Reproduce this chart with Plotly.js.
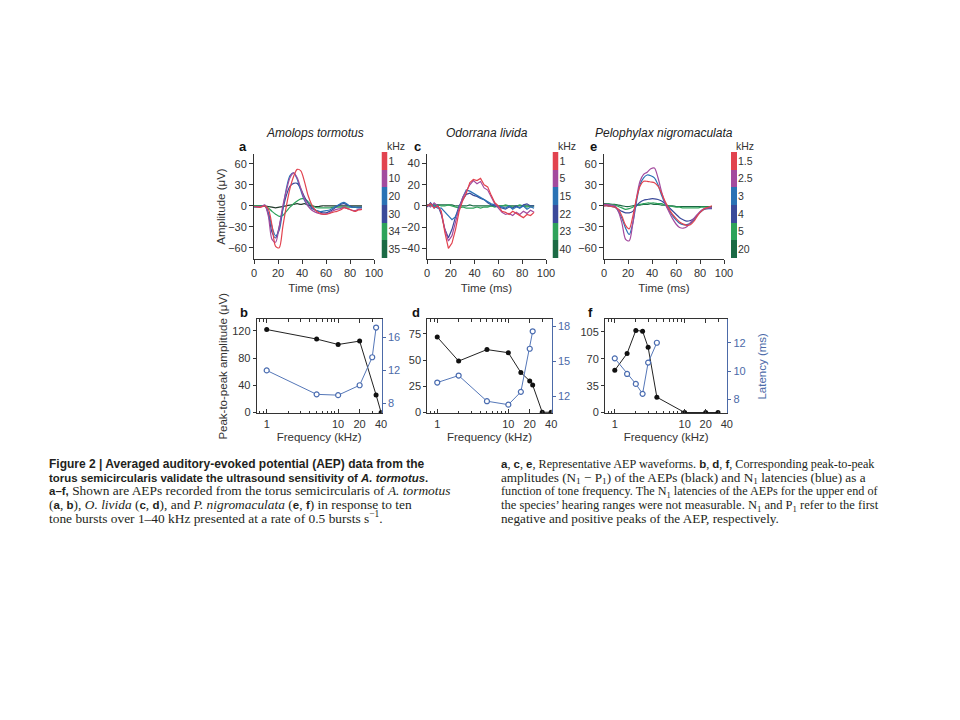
<!DOCTYPE html>
<html><head><meta charset="utf-8">
<script src="https://cdn.plot.ly/plotly-3.0.1.min.js"></script>
<style>html,body{margin:0;padding:0;background:#fff}#chart{width:960px;height:720px}</style>
</head><body><div id="chart"></div>
<script>
// ---------- DATA ----------
const timeMs = [0,3,6,9,12,15,18,21,24,27,30,33,36,39,42,45,48,51,54,57,60,63,66,69,72,75,78,81,84,87,90];

// Panel a: Amolops tormotus
const freqLabelsA = ['1','10','20','30','34','35'];
const aAmp1  = [-1,-2,-2,0,-5,-28,-58,-60,-30,0,25,42,52,50,35,15,2,-6,-10,-12,-12,-11,-9,-8,-6,-3,-4,-6,-8,-6,-5];
const aAmp10 = [-1,-1,-1,1,-15,-48,-52,-30,0,22,40,47,40,25,10,0,-6,-9,-11,-12,-12,-10,-7,-5,-4,-2,-4,-6,-7,-5,-5];
const aAmp20 = [-2,-2,-1,0,-10,-30,-43,-35,-5,25,43,47,38,22,8,0,-4,-6,-8,-8,-7,-6,-3,0,3,5,2,-2,-2,-3,-3];
const aAmp30 = [-1,-1,-1,1,-12,-38,-46,-30,-5,15,28,32,32,24,13,4,-2,-6,-8,-10,-10,-8,-5,-1,2,3,1,-1,-2,-2,-2];
const aAmp34 = [0,0,0,-1,-3,-8,-12,-15,-14,-8,-2,3,7,10,10,6,1,-2,-3,-3,-3,-3,-2,-2,-2,-2,-2,-2,-2,-2,-2];
const aAmp35 = [0,0,0,0,-1,-2,-3,-2,-1,0,1,2,3,2,3,1,0,-1,-1,0,0,0,0,0,0,0,0,0,0,0,0];

// Panel c: Odorrana livida
const freqLabelsC = ['1','5','15','22','23','40'];
const cAmp1  = [0,2,-2,0,-5,-25,-40,-35,-22,-5,5,12,22,25,24,26,20,18,10,3,0,-5,-6,-8,-5,-7,-9,-11,-8,-9,-6];
const cAmp5  = [1,-1,3,0,-6,-22,-33,-28,-15,-2,8,14,20,24,21,23,17,15,9,2,-2,-6,-8,-7,-9,-6,-8,-5,-7,-4,-6];
const cAmp15 = [0,2,0,-2,-2,-6,-10,-13,-10,-3,8,15,14,12,10,8,6,4,2,1,0,-1,-2,0,-3,-1,-2,0,-3,-1,-2];
const cAmp22 = [-1,3,-2,1,-8,-22,-30,-22,-10,0,6,11,12,10,9,7,6,3,1,0,-1,-2,-3,-1,-2,0,-2,1,2,0,0];
const cAmp23 = [0,1,0,1,0,0,1,0,-1,-2,-1,-2,-2,-2,-1,-2,-1,-1,0,-1,0,0,1,0,-1,0,1,0,-1,0,0];
const cAmp40 = [1,1,1,1,1,1,1,1,0,0,0,0,1,0,0,0,0,0,0,0,0,0,0,0,0,0,0,0,0,0,0];

// Panel e: Pelophylax nigromaculata
const freqLabelsE = ['1.5','2.5','3','4','5','20'];
const eAmp15 = [0,0,-1,-2,-5,-15,-28,-33,-15,10,28,35,35,34,33,28,18,6,-4,-12,-18,-23,-26,-28,-27,-22,-14,-8,-4,-2,0];
const eAmp25 = [2,2,1,0,-8,-25,-48,-50,-25,10,35,45,48,53,54,40,20,3,-8,-18,-26,-31,-32,-30,-24,-18,-12,-7,-4,-3,-3];
const eAmp3  = [1,1,0,-1,-8,-18,-32,-41,-25,5,30,40,44,43,40,30,15,3,-6,-14,-20,-25,-27,-27,-25,-20,-13,-7,-4,-3,-3];
const eAmp4  = [0,0,-1,-2,-5,-8,-10,-10,-8,0,5,8,9,10,10,9,7,3,-2,-7,-12,-17,-20,-22,-21,-18,-13,-8,-5,-4,-4];
const eAmp5  = [2,3,2,1,-1,-3,-5,-4,-2,1,2,3,4,4,4,3,3,1,0,-1,-2,-2,-3,-3,-3,-3,-3,-2,-2,-2,-2];
const eAmp20 = [3,3,2,2,1,0,-1,-1,0,1,1,2,2,3,2,2,1,1,0,0,-1,-1,-1,-1,-1,-1,-1,-1,-1,-1,-1];

// Panel b
const bAmpFreq = [1,5,10,20,34,40];
const bAmp     = [122,108,100,105,26,0];
const bLatFreq = [1,5,10,20,30,34];
const bLat     = [12.0,9.1,9.0,10.2,13.6,17.2];
// Panel d
const dAmpFreq = [1,2,5,10,15,20,22,30,40];
const dAmp     = [72,49,60,57,38,30,26,0,0];
const dLatFreq = [1,2,5,10,15,20,22];
const dLat     = [13.2,13.8,11.6,11.3,12.4,16.1,17.6];
// Panel f
const fAmpFreq = [1,1.5,2,2.5,3,4,10,20,30];
const fAmp     = [55,77,107,106,85,20,0,0,0];
const fLatFreq = [1,1.5,2,2.5,3,4];
const fLat     = [10.9,9.8,9.1,8.4,10.6,12.0];

const freqTickVals = [1,10,20,40];
const freqMinorVals = [0.8,0.9,2,3,4,5,6,7,8,9,20,30];

// ---------- STYLE ----------
const FONT = 'Liberation Sans, Arial, sans-serif';
const SERIF = 'Liberation Serif, Times New Roman, serif';
const C_RED = '#e2434f', C_PUR = '#a34a9e', C_BLU = '#2a72b5', C_IND = '#3b4a9a', C_GRN = '#2ea35a', C_DGR = '#1b6a44';
const waveColors = [C_RED, C_PUR, C_BLU, C_IND, C_GRN, C_DGR];
const BLUE_AX = '#4c6aa8';
const AXC = '#333';

const fx = p => p / 960;
const fy = p => 1 - p / 720;

const traces = [];
function addWaves(series, colors, xa, ya, shape, lastColor) {
  for (let i = series.length - 1; i >= 0; i--) {
    traces.push({
      type: 'scatter', mode: 'lines', x: timeMs, y: series[i], xaxis: xa, yaxis: ya,
      line: {color: (i === series.length - 1 && lastColor) ? lastColor : colors[i], width: 1.2, shape: shape, smoothing: 0.8},
      showlegend: false, hoverinfo: 'skip'
    });
  }
}
addWaves([aAmp1,aAmp10,aAmp20,aAmp30,aAmp34,aAmp35], waveColors, 'x', 'y', 'spline', '#233b2d');
addWaves([cAmp1,cAmp5,cAmp15,cAmp22,cAmp23,cAmp40], waveColors, 'x2', 'y2', 'linear');
addWaves([eAmp15,eAmp25,eAmp3,eAmp4,eAmp5,eAmp20], waveColors, 'x3', 'y3', 'spline');

// colour keys
const keyScale = [[0,C_RED],[0.2,C_PUR],[0.4,C_BLU],[0.6,C_IND],[0.8,C_GRN],[1,C_DGR]];
function addKey(labels, xa, ya) {
  traces.push({type:'heatmap', x:[0], y:labels, z:labels.map((l,i)=>[i]), zmin:0, zmax:5,
    colorscale:keyScale, showscale:false, xaxis:xa, yaxis:ya, hoverinfo:'skip', xgap:0, ygap:0});
}
addKey(freqLabelsA, 'x4', 'y4');
addKey(freqLabelsC, 'x5', 'y5');
addKey(freqLabelsE, 'x6', 'y6');

function addFreq(ampF, amp, latF, lat, xa, ya, ya2) {
  traces.push({type:'scatter', mode:'lines+markers', x:ampF, y:amp, xaxis:xa, yaxis:ya,
    line:{color:'#222', width:1}, marker:{color:'#111', size:5}, showlegend:false});
  traces.push({type:'scatter', mode:'lines+markers', x:latF, y:lat, xaxis:xa, yaxis:ya2,
    line:{color:'#5577b8', width:1}, marker:{color:'#fff', size:5, symbol:'circle', line:{color:'#4a6cb0', width:1.2}}, showlegend:false});
}
addFreq(bAmpFreq, bAmp, bLatFreq, bLat, 'x7', 'y7', 'y8');
addFreq(dAmpFreq, dAmp, dLatFreq, dLat, 'x9', 'y9', 'y10');
addFreq(fAmpFreq, fAmp, fLatFreq, fLat, 'x11', 'y11', 'y12');

// ---------- LAYOUT ----------
const tickFont = {family: FONT, size: 11, color: AXC};
const topY = [fy(259), fy(154)];
function timeX(d0, d1, anchor) {
  return {domain:[fx(d0), fx(d1)], anchor:anchor, range:[0,100], tickvals:[0,20,40,60,80,100],
    showline:true, linecolor:AXC, linewidth:1, ticks:'outside', ticklen:4, tickcolor:AXC,
    showgrid:false, zeroline:false, tickfont:tickFont,
    title:{text:'Time (ms)', font:{family:FONT, size:11.5, color:AXC}, standoff:5}};
}
function ampY(anchor, range, vals, title) {
  const o = {domain:topY, anchor:anchor, range:range, tickvals:vals,
    showline:true, linecolor:AXC, linewidth:1, ticks:'outside', ticklen:4, tickcolor:AXC,
    showgrid:false, zeroline:false, tickfont:tickFont};
  if (title) o.title = {text:title, font:{family:FONT, size:11.5, color:AXC}, standoff:0};
  return o;
}
function keyX(d0, d1, anchor) {
  return {domain:[fx(d0), fx(d1)], anchor:anchor, showticklabels:false, showgrid:false, zeroline:false, ticks:'', showline:false, range:[-0.5,0.5]};
}
function keyY(anchor) {
  return {domain:[fy(258), fy(152)], anchor:anchor, type:'category', autorange:'reversed', side:'right',
    showgrid:false, zeroline:false, showline:false, ticks:'', tickfont:{family:FONT, size:10.5, color:AXC}};
}
const botY = [fy(413.3), fy(319.3)];
function freqX(d0, d1, anchor) {
  return {domain:[fx(d0), fx(d1)], anchor:anchor, type:'log', range:[-0.14, 1.61],
    tickvals:freqTickVals, ticktext:freqTickVals.map(String), ticks:'inside', ticklen:4, tickcolor:AXC,
    minor:{tickvals:freqMinorVals, ticks:'inside', ticklen:2.5, tickcolor:AXC},
    showline:true, linecolor:AXC, linewidth:1, mirror:'ticks', showgrid:false, zeroline:false, tickfont:tickFont,
    title:{text:'Frequency (kHz)', font:{family:FONT, size:11.5, color:AXC}, standoff:4}};
}
function ppY(anchor, range, vals, title) {
  const o = {domain:botY, anchor:anchor, range:range, tickvals:vals, showline:true, linecolor:AXC, linewidth:1,
    ticks:'outside', ticklen:3, tickcolor:AXC, showgrid:false, zeroline:false, tickfont:tickFont};
  if (title) o.title = {text:title, font:{family:FONT, size:11.5, color:AXC}, standoff:2};
  return o;
}
function latY(overlay, anchor, range, vals, title) {
  const o = {overlaying:overlay, anchor:anchor, side:'right', range:range, tickvals:vals, showline:true,
    linecolor:BLUE_AX, linewidth:1, ticks:'outside', ticklen:3, tickcolor:BLUE_AX, showgrid:false, zeroline:false,
    tickfont:{family:FONT, size:11, color:BLUE_AX}};
  if (title) o.title = {text:title, font:{family:FONT, size:11.5, color:BLUE_AX}, standoff:13};
  return o;
}

const layout = {
  width:960, height:720, margin:{l:0, r:0, t:0, b:0}, paper_bgcolor:'#fff', plot_bgcolor:'rgba(0,0,0,0)',
  showlegend:false, font:{family:FONT, color:AXC},
  xaxis: timeX(254, 374, 'y'),
  yaxis: ampY('x', [-76,74], [-60,-30,0,30,60], 'Amplitude (μV)'),
  xaxis2: timeX(427, 546, 'y2'),
  yaxis2: ampY('x2', [-50,49], [-40,-20,0,20,40]),
  xaxis3: timeX(604, 724, 'y3'),
  yaxis3: ampY('x3', [-76,74], [-60,-30,0,30,60]),
  xaxis4: keyX(381.5, 387.5, 'y4'), yaxis4: keyY('x4'),
  xaxis5: keyX(552.5, 558.5, 'y5'), yaxis5: keyY('x5'),
  xaxis6: keyX(731, 737, 'y6'), yaxis6: keyY('x6'),
  xaxis7: freqX(256.7, 381.7, 'y7'),
  yaxis7: ppY('x7', [-1,137], [0,40,80,120], 'Peak-to-peak amplitude (μV)'),
  yaxis8: latY('y7', 'x7', [6.8,18.2], [8,12,16]),
  xaxis9: freqX(427.3, 551.7, 'y9'),
  yaxis9: ppY('x9', [-1,89], [0,25,50,75]),
  yaxis10: latY('y9', 'x9', [10.56,18.63], [12,15,18]),
  xaxis11: freqX(605, 727.3, 'y11'),
  yaxis11: ppY('x11', [-1,121.5], [0,35,70,105]),
  yaxis12: latY('y11', 'x11', [7.03,13.65], [8,10,12], 'Latency (ms)'),
  annotations: []
};

function ann(text, x, y, opts) {
  layout.annotations.push(Object.assign({text:text, x:fx(x), y:fy(y), xref:'paper', yref:'paper',
    showarrow:false, xanchor:'center', yanchor:'middle', font:{family:FONT, size:12, color:'#222'}}, opts || {}));
}
// species titles
ann('<i>Amolops tormotus</i>', 315, 133);
ann('<i>Odorrana livida</i>', 487, 133);
ann('<i>Pelophylax nigromaculata</i>', 664, 133);
// panel letters
const LET = {font:{family:FONT, size:13, color:'#111'}};
ann('<b>a</b>', 243, 147, LET); ann('<b>c</b>', 417, 147, LET); ann('<b>e</b>', 593, 147, LET);
ann('<b>b</b>', 244, 312, LET); ann('<b>d</b>', 416, 312, LET); ann('<b>f</b>', 590, 312, LET);
// kHz labels
const KHZ = {font:{family:FONT, size:10.5, color:AXC}, xanchor:'left'};
ann('kHz', 385, 146, KHZ); ann('kHz', 556, 146, KHZ); ann('kHz', 734, 146, KHZ);

// caption: one block per column, lines sized individually
const sb = (s, sz) => '<span style="font-family:Liberation Sans, Arial, sans-serif;font-size:' + (sz || 11.5) + 'px"><b>' + s + '</b></span>';
const ln = (s, sz) => '<span style="font-size:' + sz + 'px">' + s + '</span>';
const leftLines = [
  ln(sb('Figure 2 | Averaged auditory-evoked potential (AEP) data from the', 12), 12.8),
  ln(sb('torus semicircularis validate the ultrasound sensitivity of <i>A. tormotus</i>.', 11.4), 12.8),
  ln(sb('a–f,') + ' Shown are AEPs recorded from the torus semicircularis of <i>A. tormotus</i>', 13.4),
  ln('(' + sb('a') + ', ' + sb('b') + '), <i>O. livida</i> (' + sb('c') + ', ' + sb('d') + '), and <i>P. nigromaculata</i> (' + sb('e') + ', ' + sb('f') + ') in response to ten', 13.4),
  ln('tone bursts over 1–40 kHz presented at a rate of 0.5 bursts s<sup>−1</sup>.', 13.4)
];
const rightLines = [
  ln(sb('a') + ', ' + sb('c') + ', ' + sb('e') + ', Representative AEP waveforms. ' + sb('b') + ', ' + sb('d') + ', ' + sb('f') + ', Corresponding peak-to-peak', 12.2),
  ln('amplitudes (N<sub>1</sub> − P<sub>1</sub>) of the AEPs (black) and N<sub>1</sub> latencies (blue) as a', 13.2),
  ln('function of tone frequency. The N<sub>1</sub> latencies of the AEPs for the upper end of', 12.2),
  ln('the species’ hearing ranges were not measurable. N<sub>1</sub> and P<sub>1</sub> refer to the first', 12.5),
  ln('negative and positive peaks of the AEP, respectively.', 13.2)
];
const CAPBLOCK = {xanchor:'left', yanchor:'middle', align:'left', font:{family:SERIF, size:10.55, color:'#231f20'}};
ann(leftLines.join('<br>'), 47, 491.5, CAPBLOCK);
ann(rightLines.join('<br>'), 499, 491.5, CAPBLOCK);

Plotly.newPlot('chart', traces, layout, {staticPlot:true, displayModeBar:false});
</script>
</body></html>
